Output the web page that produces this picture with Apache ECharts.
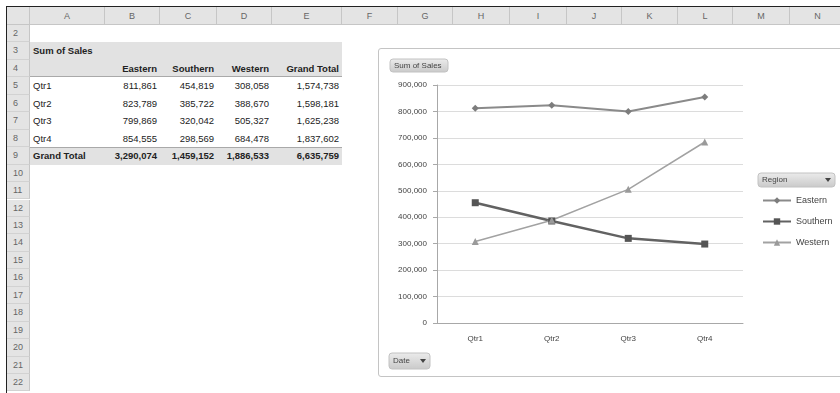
<!DOCTYPE html>
<html>
<head>
<meta charset="utf-8">
<title>Sum of Sales</title>
<script src="https://cdn.jsdelivr.net/npm/echarts@6/dist/echarts.min.js"></script>
<style>
body{margin:0;width:840px;height:393px;overflow:hidden;background:#fff;position:relative;font-family:"Liberation Sans",Arial,sans-serif}
.frameTop{position:absolute;left:6px;top:6px;width:834px;height:1px;background:#222}
.frameLeft{position:absolute;left:6px;top:6px;width:1px;height:387px;background:#222}
.hd{position:absolute;background:#e4e4e4;box-sizing:border-box;color:#666;font-size:9px;text-align:center}
.c{position:absolute;box-sizing:border-box;font-size:9.5px;color:#222;white-space:nowrap;padding:0 3px}
.band{position:absolute;background:#e2e2e2}
.rule{position:absolute;height:1px;background:#a9a9a9}
#chart{position:absolute;left:378px;top:48px;width:470px;height:329px;border:1px solid #c4c4c4;border-radius:3px;box-sizing:border-box;background:#fff}
</style>
</head>
<body>
<div class="frameTop"></div>
<div class="frameLeft"></div>
<div id="sheet"></div>
<div id="chart"></div>
<script>
var quarters = ["Qtr1", "Qtr2", "Qtr3", "Qtr4"];
var regions = ["Eastern", "Southern", "Western"];
var eastern = [811861, 823789, 799869, 854555];
var southern = [454819, 385722, 320042, 298569];
var western = [308058, 388670, 505327, 684478];
var colLetters = ["A", "B", "C", "D", "E", "F", "G", "H", "I", "J", "K", "L", "M", "N"];

var colEdges = [30, 105, 160, 217, 272, 342, 398, 453, 510, 567, 622, 678, 733, 790, 846];
var rowH = 17.45;
function rowTop(r) { return 25 + (r - 2) * rowH; }
function fmt(v) { return v.toLocaleString("en-US"); }

var sheet = document.getElementById("sheet");
function add(cls, css, text) {
  var d = document.createElement("div");
  d.className = cls;
  d.style.cssText = css;
  if (text !== undefined) d.textContent = text;
  sheet.appendChild(d);
  return d;
}

// column headers
add("hd", "left:7px;top:7px;width:23px;height:18px;border-right:1px solid #c6c6c6;border-bottom:1px solid #c6c6c6;");
colLetters.forEach(function (l, i) {
  add("hd", "left:" + colEdges[i] + "px;top:7px;width:" + (colEdges[i + 1] - colEdges[i]) +
    "px;height:18px;line-height:18px;border-right:1px solid #c6c6c6;border-bottom:1px solid #c6c6c6;", l);
});
// row headers
for (var r = 2; r <= 22; r++) {
  add("hd", "left:7px;top:" + rowTop(r) + "px;width:23px;height:" + rowH +
    "px;line-height:" + rowH + "px;border-right:1px solid #c6c6c6;border-bottom:1px solid #d2d2d2;text-align:left;padding-left:6px;", String(r));
}

// pivot table
var tableL = colEdges[0], tableR = colEdges[5];
add("band", "left:" + tableL + "px;top:" + rowTop(3) + "px;width:" + (tableR - tableL) + "px;height:" + (2 * rowH) + "px;");
add("band", "left:" + tableL + "px;top:" + rowTop(9) + "px;width:" + (tableR - tableL) + "px;height:" + rowH + "px;");
add("rule", "left:" + tableL + "px;top:" + (rowTop(5) - 1) + "px;width:" + (tableR - tableL) + "px;");
add("rule", "left:" + tableL + "px;top:" + rowTop(9) + "px;width:" + (tableR - tableL) + "px;");

function cell(r, c, text, align, bold) {
  add("c", "left:" + colEdges[c] + "px;top:" + rowTop(r) + "px;width:" + (colEdges[c + 1] - colEdges[c]) +
    "px;height:" + rowH + "px;line-height:" + rowH + "px;text-align:" + align + ";" + (bold ? "font-weight:bold;" : ""), text);
}
cell(3, 0, "Sum of Sales", "left", true);
regions.forEach(function (name, i) { cell(4, i + 1, name, "right", true); });
cell(4, 4, "Grand Total", "right", true);
var series = [eastern, southern, western];
var colTotals = [0, 0, 0], grand = 0;
quarters.forEach(function (q, qi) {
  cell(5 + qi, 0, q, "left", false);
  var rowSum = 0;
  series.forEach(function (s, si) {
    cell(5 + qi, si + 1, fmt(s[qi]), "right", false);
    rowSum += s[qi];
    colTotals[si] += s[qi];
  });
  grand += rowSum;
  cell(5 + qi, 4, fmt(rowSum), "right", false);
});
cell(9, 0, "Grand Total", "left", true);
colTotals.forEach(function (t, i) { cell(9, i + 1, fmt(t), "right", true); });
cell(9, 4, fmt(grand), "right", true);

// pivot chart
var btnFill = new echarts.graphic.LinearGradient(0, 0, 0, 1, [
  { offset: 0, color: "#ececec" }, { offset: 1, color: "#c9c9c9" }
]);
function button(x, y, w, h, label, arrow) {
  var children = [
    { type: "rect", shape: { x: x, y: y, width: w, height: h, r: 3 }, style: { fill: btnFill, stroke: "#c2c2c2" } },
    { type: "text", style: { x: x + 4, y: y + h / 2, text: label, fontSize: 8, fill: "#444", verticalAlign: "middle", fontFamily: "Liberation Sans" } }
  ];
  if (arrow) {
    children.push({ type: "polygon", shape: { points: [[x + w - 10, y + h / 2 - 2], [x + w - 4, y + h / 2 - 2], [x + w - 7, y + h / 2 + 2]] }, style: { fill: "#444" } });
  }
  return { type: "group", children: children };
}

var chart = echarts.init(document.getElementById("chart"));
chart.setOption({
  animation: false,
  textStyle: { fontFamily: "Liberation Sans" },
  grid: { left: 58, top: 36, width: 306, height: 238 },
  legend: {
    orient: "vertical",
    left: 383,
    top: 147,
    padding: 0,
    itemWidth: 28,
    itemHeight: 8,
    itemGap: 12,
    textStyle: { fontSize: 9, color: "#444" },
    data: regions
  },
  xAxis: {
    type: "category",
    data: quarters,
    axisLine: { lineStyle: { color: "#a8a8a8" } },
    axisTick: { length: 4, lineStyle: { color: "#a8a8a8" } },
    axisLabel: { fontSize: 8, color: "#444", margin: 12 }
  },
  yAxis: {
    type: "value",
    min: 0,
    max: 900000,
    interval: 100000,
    axisLine: { show: true, lineStyle: { color: "#a8a8a8" } },
    axisTick: { show: true, length: 4, lineStyle: { color: "#a8a8a8" } },
    splitLine: { lineStyle: { color: "#dcdcdc" } },
    axisLabel: { fontSize: 8, color: "#444", margin: 10, formatter: function (v) { return fmt(v); } }
  },
  series: [
    { name: "Eastern", type: "line", data: eastern, symbol: "diamond", symbolSize: 7,
      lineStyle: { color: "#8a8a8a", width: 2 }, itemStyle: { color: "#7d7d7d" } },
    { name: "Southern", type: "line", data: southern, symbol: "rect", symbolSize: 7,
      lineStyle: { color: "#626262", width: 2.5 }, itemStyle: { color: "#555" } },
    { name: "Western", type: "line", data: western, symbol: "triangle", symbolSize: 7,
      lineStyle: { color: "#a2a2a2", width: 1.5 }, itemStyle: { color: "#9a9a9a" } }
  ],
  graphic: [
    button(11, 10, 58, 13, "Sum of Sales", false),
    button(379, 124, 77, 14, "Region", true),
    button(10, 304, 41, 16, "Date", true)
  ]
});
</script>
</body>
</html>
